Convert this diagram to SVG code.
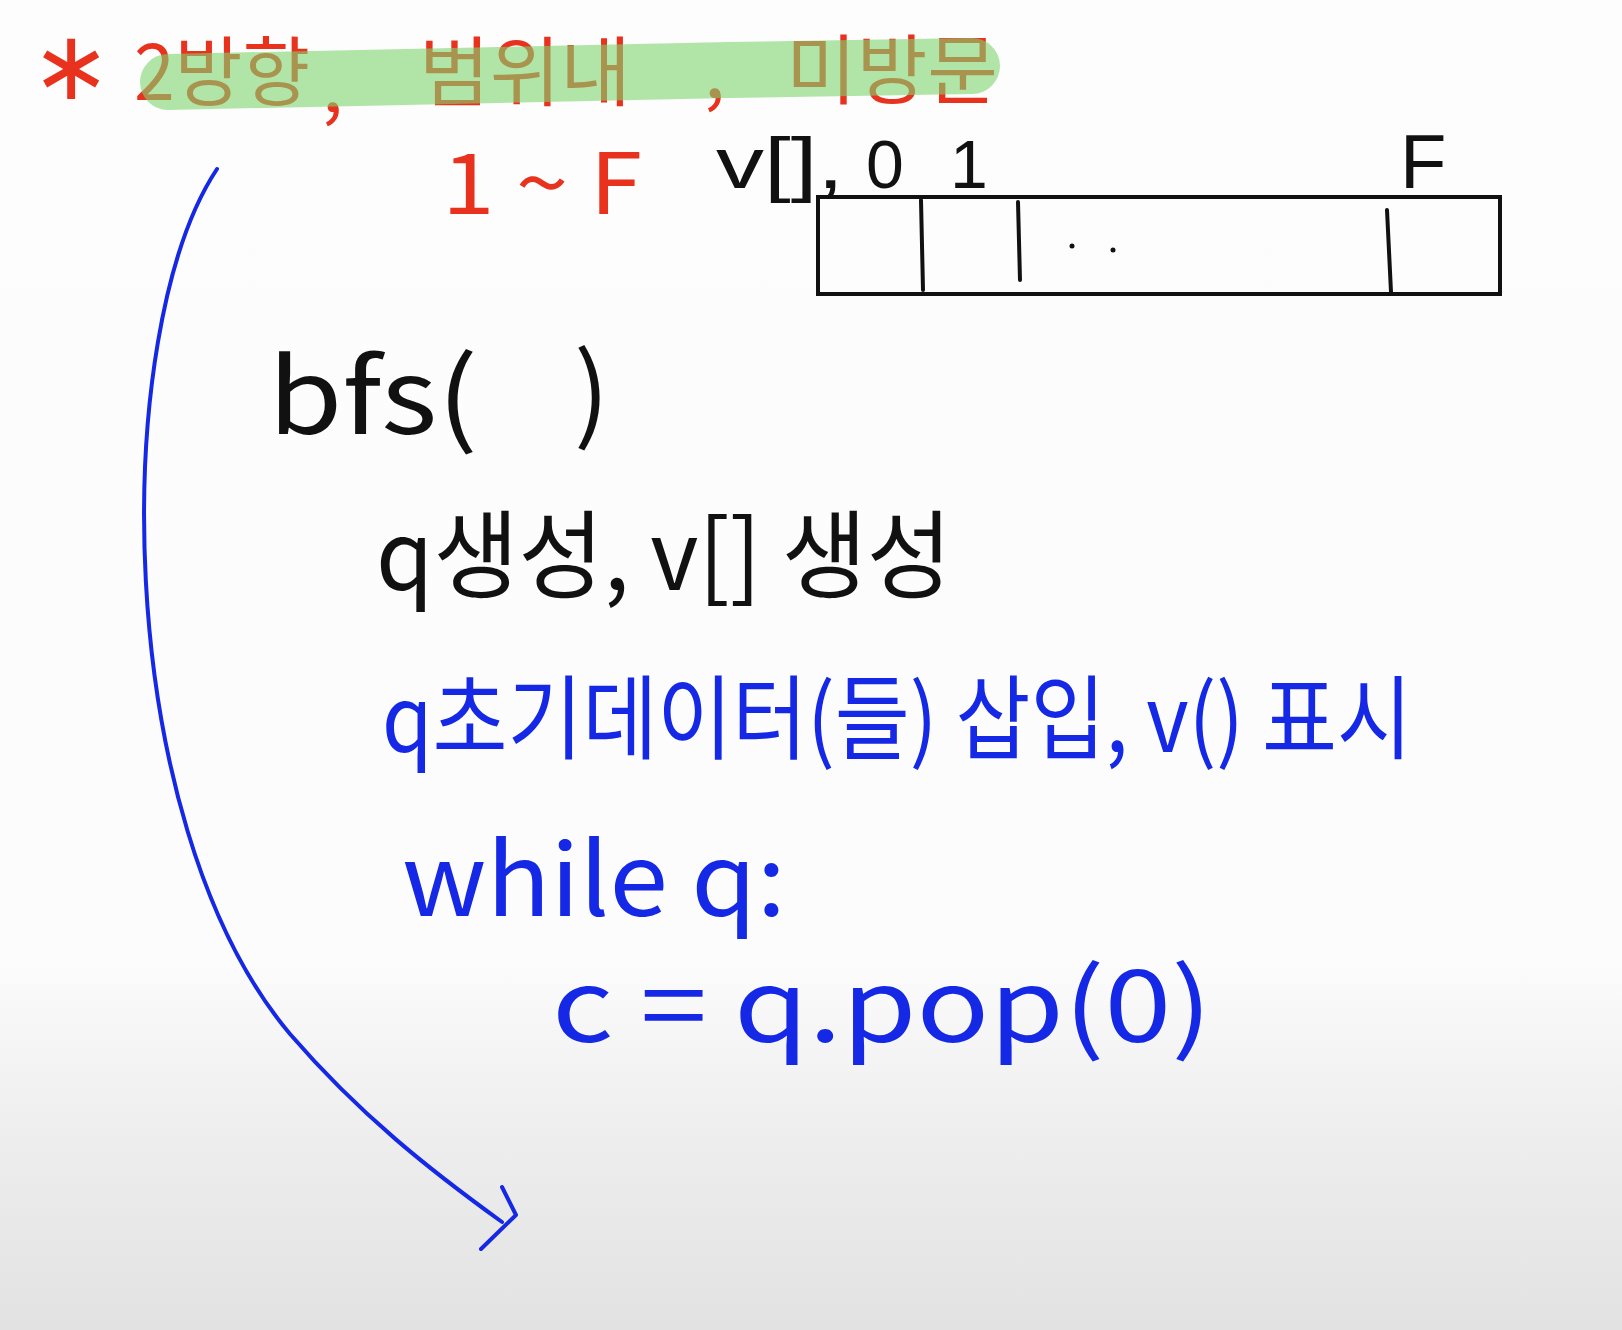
<svg xmlns="http://www.w3.org/2000/svg" width="1622" height="1330" viewBox="0 0 1622 1330">
  <style>
    .kr { font-family: "Noto Sans CJK KR", "Noto Sans", sans-serif; font-weight: 400; }
    .lat { font-family: "Liberation Sans", "DejaVu Sans", sans-serif; font-weight: 400; }
    .red { fill: #e8321e; }
    .blk { fill: #111111; }
    .blu { fill: #1428e6; }
    .pen { fill: none; stroke-linecap: round; stroke-linejoin: round; }
    .bluepen { stroke: #1428e6; stroke-width: 4; }
  </style>
  <defs>
    <linearGradient id="bg" x1="0" y1="0" x2="0" y2="1">
      <stop offset="0" stop-color="#fdfdfd"/>
      <stop offset="0.72" stop-color="#fcfcfc"/>
      <stop offset="0.85" stop-color="#eeeeee"/>
      <stop offset="1" stop-color="#e2e2e2"/>
    </linearGradient>
  </defs>
  <rect width="1622" height="1330" fill="url(#bg)"/>

  <g id="title" class="kr red">
    <text class="red" x="31" y="99" font-size="96" font-family="DejaVu Sans, sans-serif">∗</text>
    <text x="134" y="100" font-size="76" textLength="176" lengthAdjust="spacingAndGlyphs">2방향</text>
    <text x="322" y="112" font-size="76">,</text>
    <text x="419" y="100" font-size="76" textLength="212" lengthAdjust="spacingAndGlyphs">범위내</text>
    <text x="704" y="98" font-size="76">,</text>
    <text x="786" y="98" font-size="76" textLength="212" lengthAdjust="spacingAndGlyphs">미방문</text>
  </g>
  <path id="highlight" class="pen" d="M168,82 C400,76 700,70 972,66" stroke="#7ed66f" stroke-opacity="0.6" stroke-width="56"/>

  <g id="range" class="kr red">
    <text x="442" y="214" font-size="84" textLength="200" lengthAdjust="spacingAndGlyphs">1 ~ F</text>
  </g>

  <g id="array">
    <text class="lat blk" x="716" y="188" font-size="72" textLength="128" lengthAdjust="spacingAndGlyphs">v[],</text>
    <text class="lat blk" x="866" y="188" font-size="68">0</text>
    <text class="lat blk" x="950" y="188" font-size="68">1</text>
    <text class="lat blk" x="1400" y="188" font-size="76">F</text>
    <rect x="818" y="197" width="682" height="97" fill="none" stroke="#111111" stroke-width="4"/>
    <path class="pen" d="M921,200 L923,290 M1018,202 L1020,280 M1387,210 L1391,292" stroke="#111111" stroke-width="4"/>
    <circle cx="1072" cy="246" r="2.5" fill="#111111"/>
    <circle cx="1113" cy="250" r="2.5" fill="#111111"/>
  </g>

  <g id="bfs" class="kr blk">
    <text x="268" y="434" font-size="104" textLength="210" lengthAdjust="spacingAndGlyphs">bfs(</text>
    <text x="574" y="430" font-size="104">)</text>
  </g>

  <g id="create" class="kr blk">
    <text x="376" y="590" font-size="96" textLength="576" lengthAdjust="spacingAndGlyphs">q생성, v[] 생성</text>
  </g>

  <g id="init" class="kr blu">
    <text x="382" y="752" font-size="92" textLength="1030" lengthAdjust="spacingAndGlyphs">q초기데이터(들) 삽입, v() 표시</text>
  </g>

  <g id="while" class="kr blu">
    <text x="402" y="916" font-size="100" textLength="384" lengthAdjust="spacingAndGlyphs">while q:</text>
  </g>

  <g id="pop" class="kr blu">
    <text x="552" y="1042" font-size="100" textLength="660" lengthAdjust="spacingAndGlyphs">c = q.pop(0)</text>
  </g>

  <g id="connectors">
    <path class="pen bluepen" d="M217,169 C110,330 110,820 290,1034 C360,1115 430,1170 502,1222"/>
    <path class="pen bluepen" d="M502,1187 L516,1215 L481,1249"/>
  </g>
</svg>
